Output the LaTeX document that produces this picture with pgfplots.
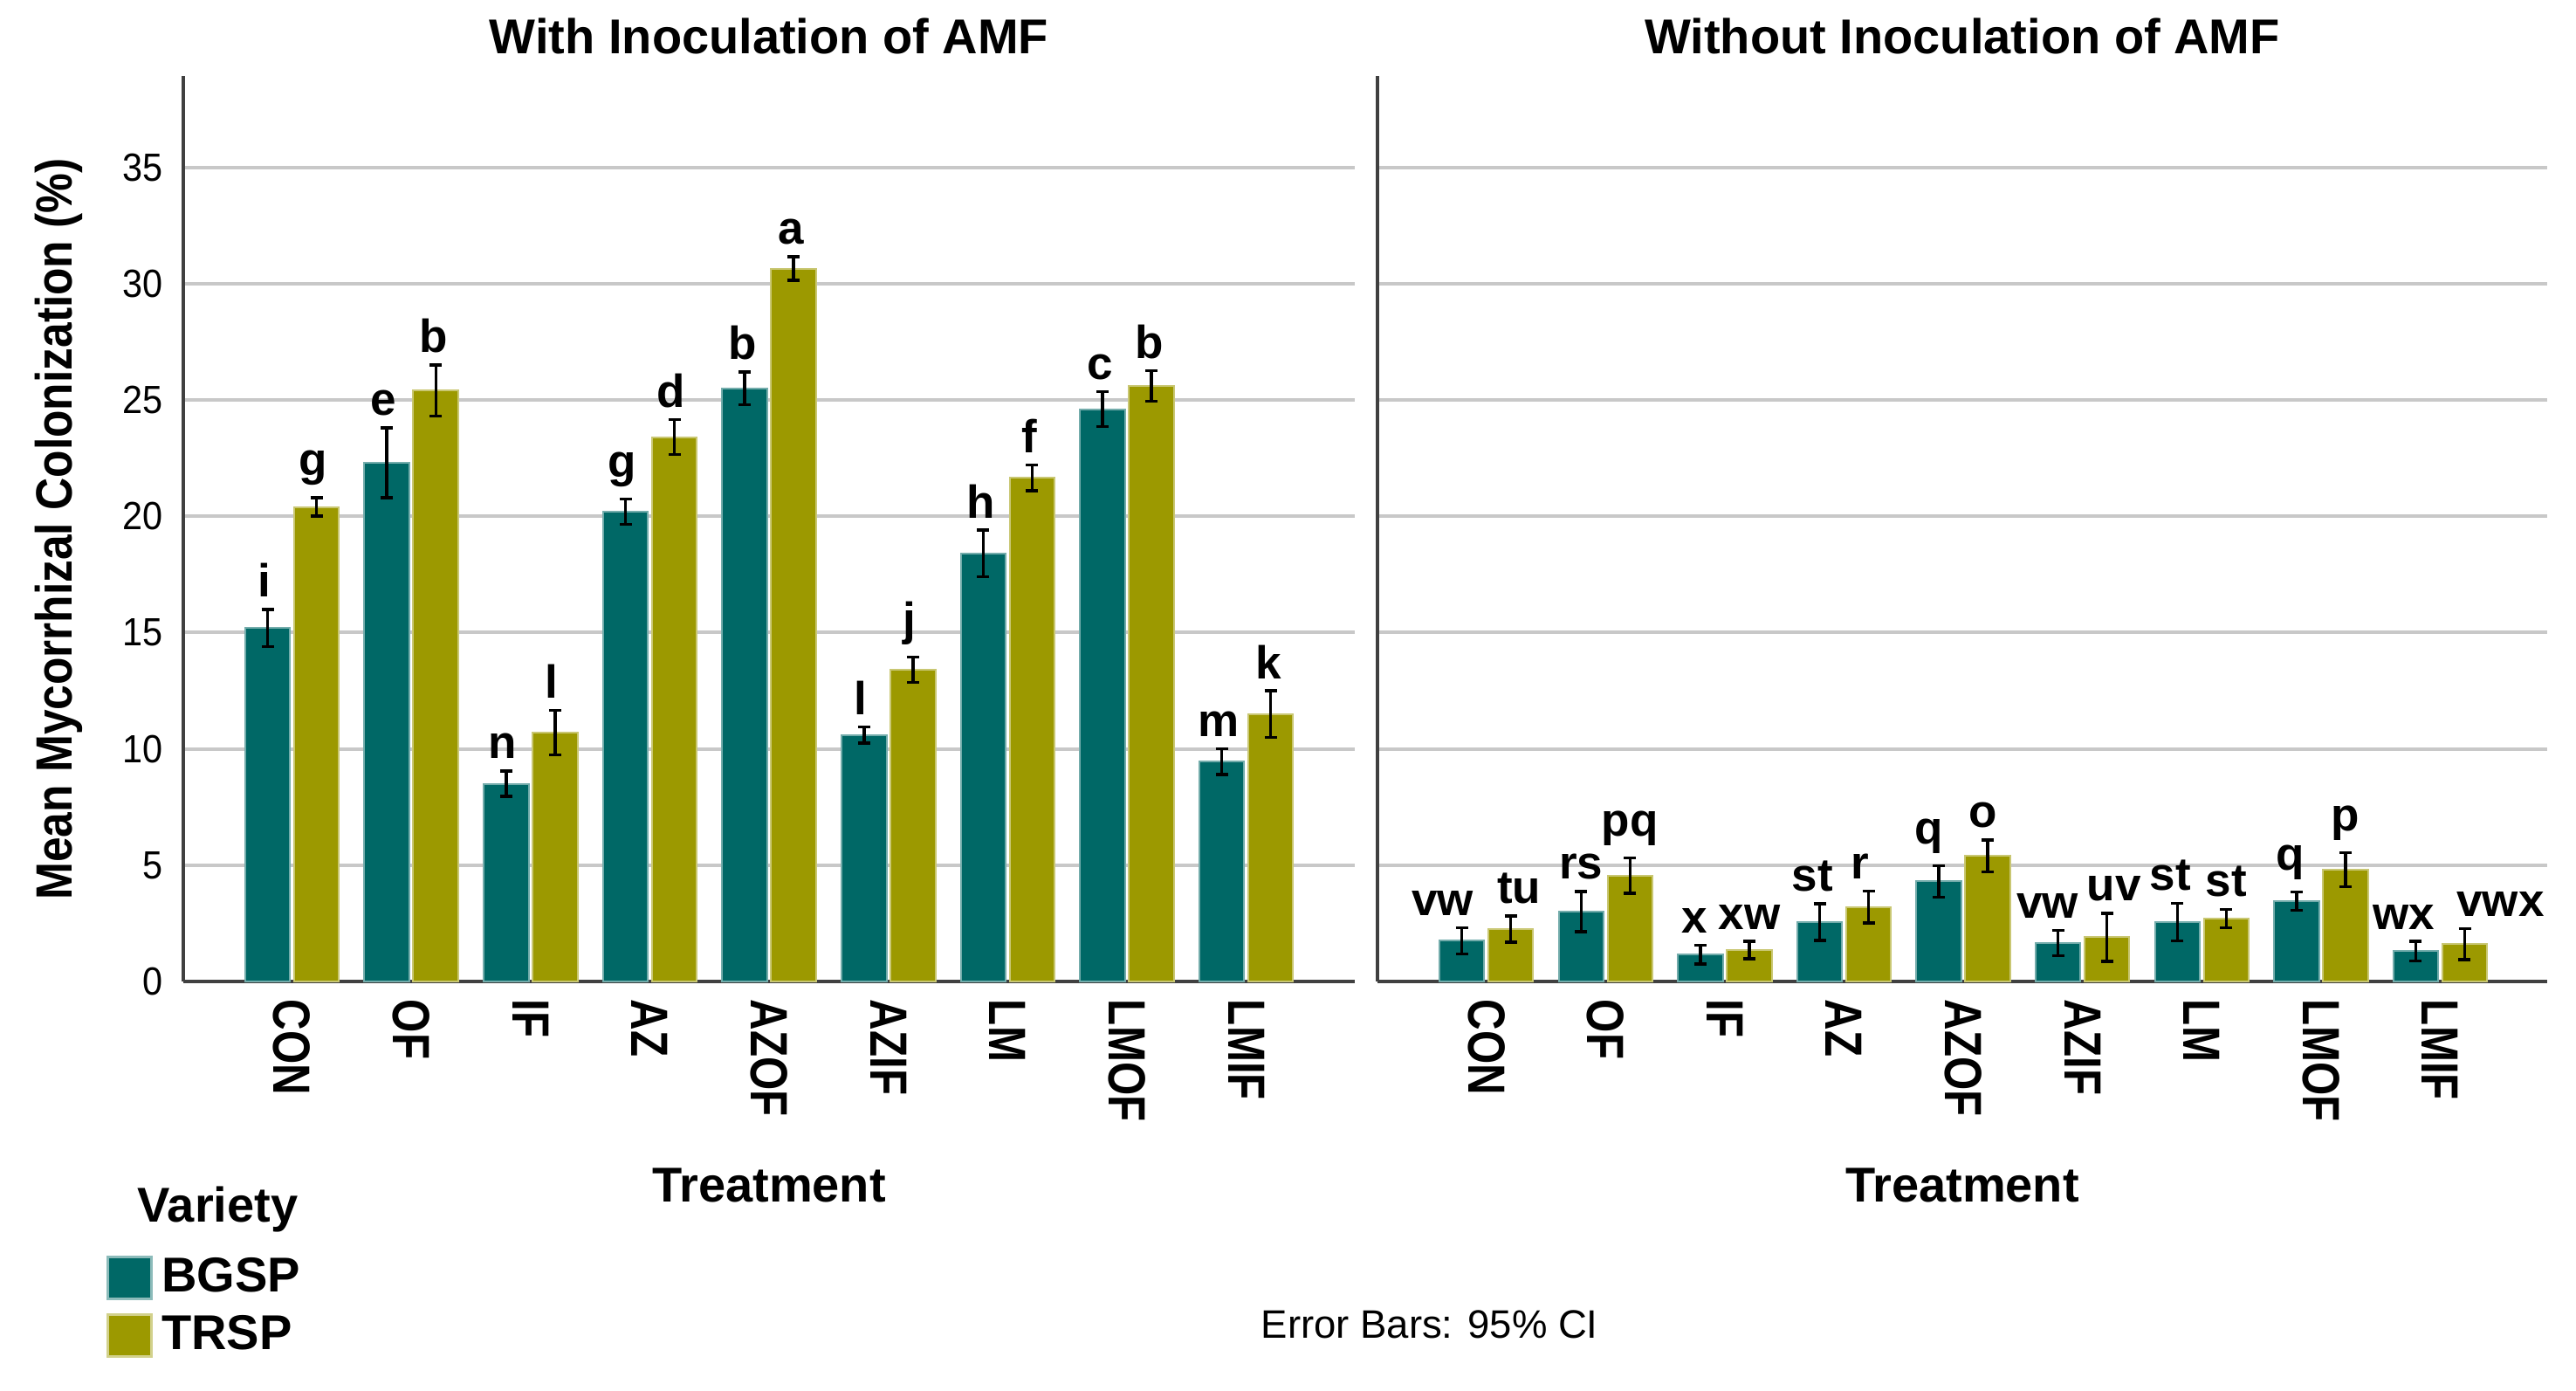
\documentclass[border=0pt]{standalone}
\usepackage{fontspec}
\setmainfont{Liberation Sans}
\newfontfamily\catfont{Liberation Sans}[FakeStretch=0.82]
\newfontfamily\ylabfont{Liberation Sans}[FakeStretch=0.88]
\newfontfamily\tickfont{Liberation Sans}[FakeStretch=0.92]
\usepackage{pgfplots}
\usepackage{pgfplotstable}
\pgfplotsset{compat=1.18}

\definecolor{bgsp}{RGB}{0,104,102}
\definecolor{trsp}{RGB}{156,153,0}
\definecolor{gridgray}{RGB}{200,200,200}
\definecolor{axisgray}{RGB}{64,64,64}

% mean colonization and 95% CI half-widths, letters of significance,
% and small sideways nudges of the letters (dxb, dxt)
\pgfplotstableread{
x  bg    bge   tr     tre   lb  lt  dxb    dxt
0  15.2  0.8   20.4   0.4   i   g   -0.03  -0.03
1  22.3  1.5   25.4   1.1   e   b   -0.03  -0.02
2  8.5   0.55  10.7   0.95  n   l   -0.03  -0.03
3  20.2  0.55  23.4   0.75  g   d   -0.03  -0.03
4  25.5  0.7   30.65  0.5   b   a   -0.02  -0.02
5  10.6  0.35  13.4   0.55  l   j   -0.03  -0.03
6  18.4  1.0   21.65  0.55  h   f   -0.02  -0.02
7  24.6  0.75  25.6   0.65  c   b   -0.02  -0.02
8  9.45  0.55  11.5   1.0   m   k   -0.03  -0.02
}\withamf

\pgfplotstableread{
x  bg    bge   tr    tre   lb  lt   dxb    dxt
0  1.75  0.56  2.25  0.56  vw  tu   -0.16  0.07
1  3.0   0.87  4.55  0.76  rs  pq   0      0
2  1.15  0.4   1.35  0.37  x   xw   -0.05  0
3  2.55  0.79  3.2   0.69  st  r    -0.06  -0.07
4  4.3   0.67  5.4   0.68  q   o    -0.08  -0.04
5  1.65  0.55  1.9   1.03  vw  uv   -0.09  0.06
6  2.55  0.81  2.7   0.4   st  st   -0.06  0
7  3.45  0.4   4.8   0.73  q   p    -0.05  0
8  1.3   0.42  1.6   0.67  wx  vwx  -0.1   0.3
}\withoutamf

\pgfplotsset{
  panel/.style={
    scale only axis, height=207.4pt,
    anchor=south west,
    ymin=0, ymax=38.93,
    axis lines*=left,
    axis line style={axisgray, line width=0.85pt},
    major tick length=0pt,
    ytick={0,5,...,35},
    ymajorgrids,
    major grid style={gridgray, line width=0.8pt},
    xtick={0,...,8},
    xticklabels={CON,OF,IF,AZ,AZOF,AZIF,LM,LMOF,LMIF},
    xticklabel style={font=\catfont\bfseries\fontsize{12}{14}\selectfont,
      rotate=-90, anchor=west, inner xsep=4pt, inner ysep=0pt},
    /pgf/number format/assume math mode=true,
    yticklabel style={font=\tickfont\fontsize{9}{11}\selectfont,
      anchor=east, inner sep=0pt, xshift=-4.4pt},
    clip=false,
  },
  bars/.style={ybar, bar width=0.377, bar shift=0, forget plot, line width=0.4pt,
    error bars/y dir=both, error bars/y explicit,
    error bars/error bar style={black, line width=0.7pt},
    error bars/error mark options={black, rotate=90, mark size=1.4pt, line width=0.7pt}},
  lab/.style={draw=none, mark=none, forget plot, nodes near coords,
    point meta=explicit symbolic,
    nodes near coords style={anchor=south, inner sep=0pt, yshift=2.6pt,
      text=black, font=\bfseries\fontsize{10.6}{12}\selectfont}},
}

\begin{document}
\begin{tikzpicture}
\useasboundingbox (0,0) rectangle (590.2pt,318.6pt);

\begin{axis}[panel, at={(42pt,93.8pt)}, width=268.4pt,
  xmin=-0.912, xmax=8.91,
  legend style={at={(axis description cs:-0.0663,-0.3018)}, anchor=north west,
    draw=none, fill=none, inner sep=0pt, row sep=3pt, /tikz/column sep=2pt,
    nodes={inner sep=0pt, font=\bfseries\fontsize{11.2}{13}\selectfont}},
  legend cell align=left,
  legend image code/.code={\draw[#1, line width=0.6pt] (0pt,-4.8pt) rectangle (10pt,4.8pt);},
]
\addplot[bars, fill=bgsp, draw=bgsp!55!white]
  table[x expr=\thisrow{x}-0.205, y=bg, y error=bge] {\withamf};
\addplot[bars, fill=trsp, draw=trsp!55!white]
  table[x expr=\thisrow{x}+0.205, y=tr, y error=tre] {\withamf};
\addplot[lab] table[x expr=\thisrow{x}-0.205+\thisrow{dxb}, y expr=\thisrow{bg}+\thisrow{bge}, meta=lb] {\withamf};
\addplot[lab] table[x expr=\thisrow{x}+0.205+\thisrow{dxt}, y expr=\thisrow{tr}+\thisrow{tre}, meta=lt] {\withamf};
\addlegendimage{fill=bgsp, draw=bgsp!45!white}
\addlegendentry{BGSP}
\addlegendimage{fill=trsp, draw=trsp!45!white}
\addlegendentry{TRSP}
\end{axis}

\begin{axis}[panel, at={(315.6pt,93.8pt)}, width=268pt,
  xmin=-0.913, xmax=8.897,
  yticklabels={},
]
\addplot[bars, fill=bgsp, draw=bgsp!55!white]
  table[x expr=\thisrow{x}-0.205, y=bg, y error=bge] {\withoutamf};
\addplot[bars, fill=trsp, draw=trsp!55!white]
  table[x expr=\thisrow{x}+0.205, y=tr, y error=tre] {\withoutamf};
\addplot[lab] table[x expr=\thisrow{x}-0.205+\thisrow{dxb}, y expr=\thisrow{bg}+\thisrow{bge}, meta=lb] {\withoutamf};
\addplot[lab] table[x expr=\thisrow{x}+0.205+\thisrow{dxt}, y expr=\thisrow{tr}+\thisrow{tre}, meta=lt] {\withoutamf};
\end{axis}

\node[anchor=base, font=\bfseries\fontsize{11.2}{13}\selectfont] at (176.2pt,306.2pt) {With Inoculation of AMF};
\node[anchor=base, font=\bfseries\fontsize{11.2}{13}\selectfont] at (449.6pt,306.2pt) {Without Inoculation of AMF};
\node[anchor=base, font=\bfseries\fontsize{11.2}{13}\selectfont] at (176.2pt,43.2pt) {Treatment};
\node[anchor=base, font=\bfseries\fontsize{11.2}{13}\selectfont] at (449.6pt,43.2pt) {Treatment};
\node[rotate=90, anchor=base, font=\ylabfont\bfseries\fontsize{11.7}{14}\selectfont] at (16.4pt,197.4pt) {Mean Mycorrhizal Colonization (\%)};
\node[anchor=base west, font=\bfseries\fontsize{11.2}{13}\selectfont] at (28pt,38.6pt) {Variety};
\node[anchor=base west, font=\fontsize{9.1}{11}\selectfont] at (285.4pt,12pt) {Error Bars: 95\% CI};
\end{tikzpicture}
\end{document}
